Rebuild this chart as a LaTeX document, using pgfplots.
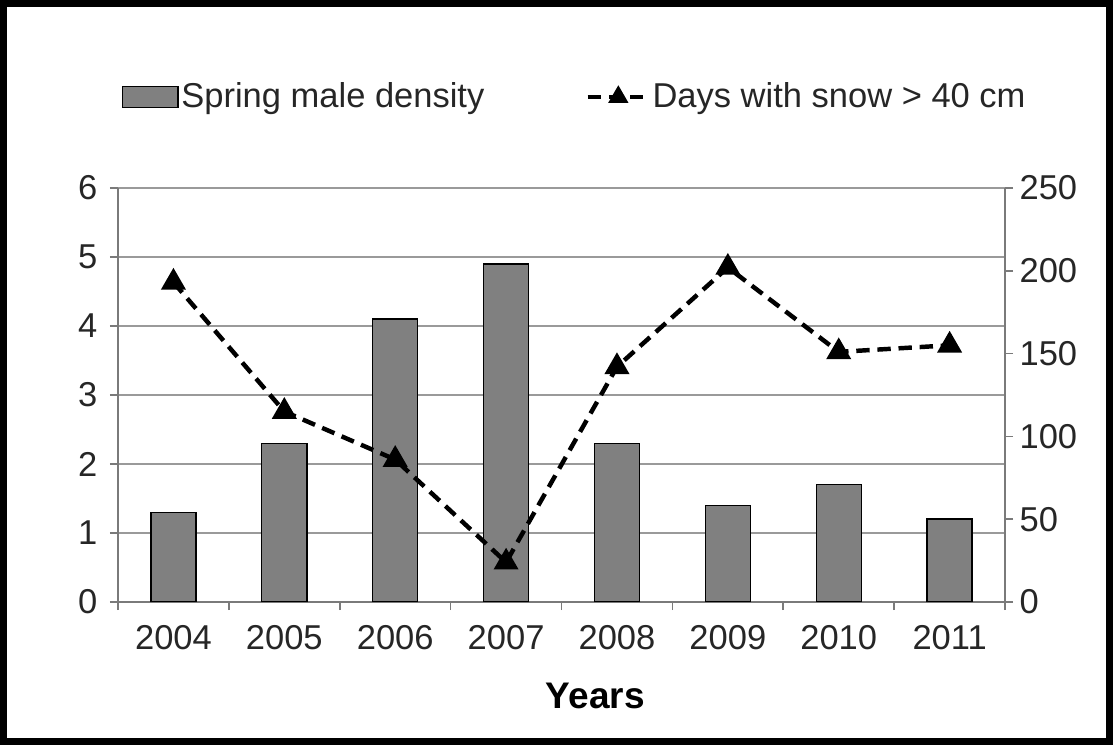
\documentclass[border=0pt]{standalone}
\usepackage{pgfplots}
\pgfplotsset{compat=1.18}
\usepackage{fontspec}
\setmainfont{Liberation Sans}
\definecolor{barfill}{HTML}{808080}
\definecolor{gridc}{HTML}{9A9A9A}
\definecolor{axisc}{HTML}{7A7A7A}
\definecolor{txt}{HTML}{262626}
\begin{document}
\begin{tikzpicture}
\useasboundingbox (-42.41pt,-51.39pt) rectangle (357.59pt,216.35pt);
\pgfplotsset{
  common/.style={
    width=318.8pt, height=148.8pt, scale only axis,
    xmin=-0.5, xmax=7.5,
    tick label style={font=\fontsize{12.4}{14}\selectfont, text=txt},
    /pgf/number format/assume math mode=true,
    tick align=outside,
    major tick length=2.9pt,
    axis line style={axisc, line width=0.6pt},
    tick style={axisc, line width=0.6pt},
  }
}
\begin{axis}[common,
  ymin=0, ymax=6, ytick={0,1,...,6},
  axis x line*=bottom, axis y line*=left,
  ymajorgrids, grid style={gridc, line width=0.6pt},
  xtick={-0.5,0.5,...,7.5}, xticklabels={},
  extra x ticks={0,1,...,7},
  extra x tick labels={2004,2005,2006,2007,2008,2009,2010,2011},
  extra x tick style={major tick length=0pt, grid=none},
  xticklabel style={yshift=-5pt},
  yticklabel style={xshift=-1pt},
  xlabel={Years},
  xlabel style={at={(axis description cs:0.538,-0.228)}, anchor=center, font=\bfseries\fontsize{13.3}{16}\selectfont, text=black},
  legend style={at={(0.0034,1.2198)}, anchor=west, draw=none, fill=none, inner sep=0pt, font=\fontsize{12.4}{14}\selectfont, text=txt, nodes={inner sep=1pt}},
  legend image code/.code={\draw[fill=barfill, draw=black, line width=0.5pt] (0pt,-3.8pt) rectangle (20pt,3.8pt);},
]
\addplot[ybar, bar width=16.2pt, fill=barfill, draw=black, line width=0.5pt]
  coordinates {(0,1.3) (1,2.3) (2,4.1) (3,4.9) (4,2.3) (5,1.4) (6,1.7) (7,1.2)};
\addlegendentry{Spring male density}
\end{axis}
\begin{axis}[common,
  ymin=0, ymax=250, ytick={0,50,...,250},
  axis y line*=right, axis x line=none,
  yticklabel style={xshift=-1.2pt},
  legend style={at={(0.5264,1.2198)}, anchor=west, draw=none, fill=none, inner sep=0pt, font=\fontsize{12.4}{14}\selectfont, text=txt, nodes={inner sep=0.5pt}},
  legend image code/.code={\draw[mark repeat=2,mark phase=2,#1, mark size=2.6pt] plot coordinates {(0pt,0pt) (11pt,0pt) (22pt,0pt)};},
]
\addplot[black, line width=1.6pt, dash pattern=on 4.8pt off 2.8pt, mark=triangle*, mark size=3.6pt, mark options={solid}]
  coordinates {(0,193) (1,115) (2,86) (3,24) (4,142) (5,202) (6,151) (7,155)};
\addlegendentry{Days with snow > 40 cm}
\end{axis}
\draw[line width=2.6pt] (-41.11pt,-50.09pt) rectangle (356.29pt,215.05pt);
\end{tikzpicture}
\end{document}
